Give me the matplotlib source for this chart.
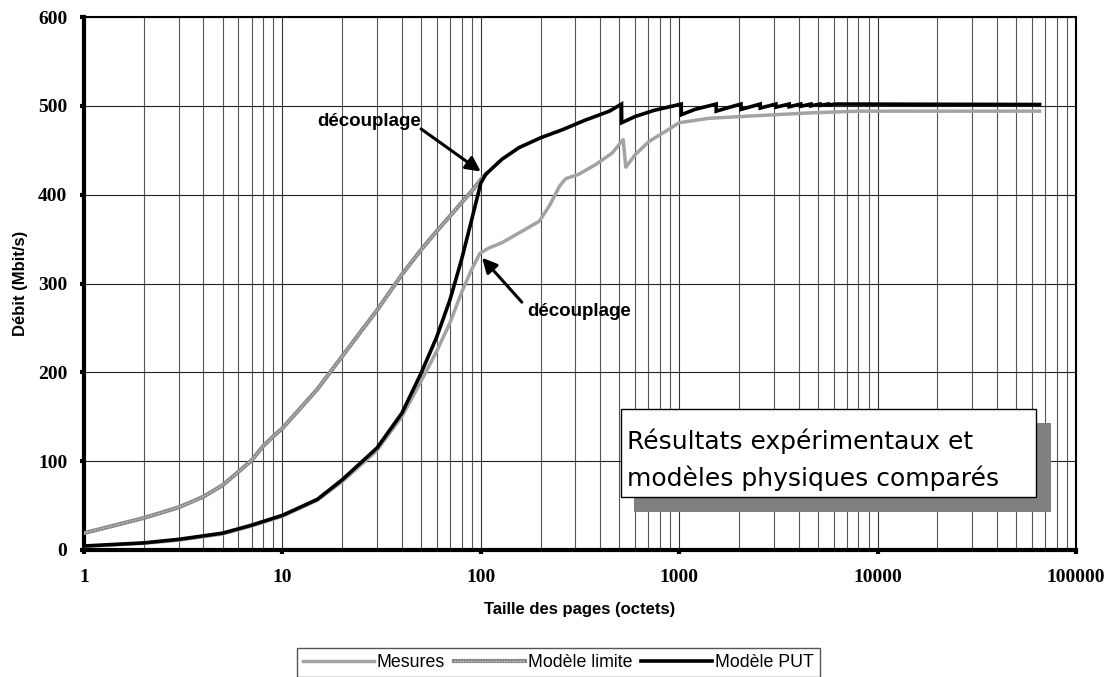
# -*- coding: utf-8 -*-
import matplotlib
matplotlib.use('Agg')
import matplotlib.pyplot as plt
from matplotlib.lines import Line2D
from matplotlib.patches import Rectangle
from matplotlib.ticker import FixedLocator, LogLocator, NullFormatter


W, H = 1108, 677

# page size (bytes) -> throughput (Mbit/s)
mes_x = [1, 2, 3, 5, 7, 10, 15, 20, 30, 33, 40, 50, 60, 70, 80, 90, 99,
         110, 128, 156, 197, 221, 250, 268, 312, 380, 460, 522, 538, 600,
         705, 850, 1000, 1420, 2500, 4500, 8000, 65536]
mes_y = [4, 7.5, 11, 18, 27, 38, 56, 77, 112, 125, 150, 190, 224, 256, 290,
         316, 334, 340, 346, 357, 370, 387, 410, 418, 423, 434, 447, 462, 431,
         445, 460, 471, 481, 486, 489, 492, 494, 494]

lim_x = [1, 2, 3, 4, 5, 6, 7, 8, 9, 10, 15, 20, 30, 40, 50, 60, 70, 80, 90,
         100, 106]
lim_y = [19, 36, 48, 60, 73, 88, 101, 117, 128, 137, 181, 218, 270, 310, 338,
         359, 376, 391, 404, 417, 423]

put_x = [1, 2, 3, 5, 7, 10, 15, 20, 30, 40, 50, 60, 70, 80, 90, 100, 106,
         128, 156, 200, 257, 337, 445, 512, 513, 600, 750, 1024, 1025, 1200,
         1536, 1537, 1800, 2048, 2049, 2560, 2561, 3072, 3073, 3584, 3585,
         4096, 4097, 4608, 4609, 5120, 5121, 5632, 5633, 6144, 65536]
put_y = [4.5, 8, 12, 19, 28, 39, 57, 79, 115, 154, 199, 240, 282, 327, 372,
         413, 423, 440, 453, 464, 473, 484, 494, 502, 481, 488, 495, 502, 490,
         496, 502, 494, 498.5, 502, 496, 502, 497.5, 502, 498.5, 502, 499,
         502, 499.5, 502, 500, 502, 500.5, 502, 501, 502, 501.5]

series_labels = ['Mesures', 'Modèle limite', 'Modèle PUT']
x_ticks = [1, 10, 100, 1000, 10000, 100000]
y_ticks = [0, 100, 200, 300, 400, 500, 600]

SANS = ['Liberation Sans', 'DejaVu Sans']
SERIF = ['Liberation Serif', 'DejaVu Serif']


def px(x, y):
    return x / W, 1 - y / H


def plot(file):
    fig = plt.figure(figsize=(W / 100, H / 100), dpi=100)
    left, top = px(84, 17)
    right, bottom = px(1076, 550)
    ax = fig.add_axes([left, bottom, right - left, top - bottom])

    ax.set_xscale('log')
    ax.set_xlim(1, 100000)
    ax.set_ylim(0, 600)

    # grid: all decades subdivided
    ax.xaxis.set_major_locator(FixedLocator(x_ticks))
    ax.xaxis.set_minor_locator(LogLocator(base=10, subs=range(2, 10), numticks=20))
    ax.xaxis.set_minor_formatter(NullFormatter())
    ax.set_xticklabels([str(t) for t in x_ticks])
    ax.set_yticks(y_ticks)
    ax.grid(True, which='major', axis='x', color='#333333', lw=0.8)
    ax.grid(True, which='minor', axis='x', color='#555555', lw=0.8)
    ax.grid(True, which='major', axis='y', color='#222222', lw=0.8)
    ax.set_axisbelow(True)

    for s in ['left', 'bottom']:
        ax.spines[s].set_linewidth(3)
    for s in ['top', 'right']:
        ax.spines[s].set_linewidth(1.5)

    ax.tick_params(which='major', direction='out', length=3, width=3,
                   color='k')
    ax.tick_params(which='minor', length=0)
    ax.tick_params(axis='x', pad=11)
    ax.tick_params(axis='y', pad=9)
    for lab in ax.get_xticklabels() + ax.get_yticklabels():
        lab.set_family(SERIF)
        lab.set_fontweight('bold')
        lab.set_fontsize(14)

    # curves
    ax.plot(mes_x, mes_y, color='#a3a3a3', lw=2.5, solid_joinstyle='round',
            zorder=3)
    ax.plot(lim_x, lim_y, color='#8a8a8a', lw=3, zorder=3)
    ax.plot(lim_x, lim_y, color='#cfcfcf', lw=0.9, ls=(0, (1, 1.2)), zorder=3)
    ax.plot(put_x, put_y, color='k', lw=2.6, solid_joinstyle='miter', zorder=4)

    ax.set_xlabel('Taille des pages (octets)', family=SANS, fontweight='bold',
                  fontsize=12)
    ax.xaxis.set_label_coords(0.5, -52 / 533)
    ax.set_ylabel('Débit (Mbit/s)', family=SANS, fontweight='bold',
                  fontsize=12)
    ax.yaxis.set_label_coords(-56 / 992, 0.5)

    # decoupling points
    arrow = dict(arrowstyle='-|>', color='k', lw=2.2, mutation_scale=22,
                 shrinkA=0, shrinkB=0)
    ax.annotate('', xy=(100, 426), xytext=(50, 474), arrowprops=arrow)
    ax.text(15, 482, 'découplage', family=SANS, fontweight='bold',
            fontsize=13.5, va='center', ha='left')
    ax.annotate('', xy=(101.5, 329), xytext=(161, 279), arrowprops=arrow)
    ax.text(171, 269, 'découplage', family=SANS, fontweight='bold',
            fontsize=13.5, va='center', ha='left')

    # caption box with shadow
    x0, y0 = px(634, 512)
    x1, y1 = px(1051, 423)
    fig.add_artist(Rectangle((x0, y0), x1 - x0, y1 - y0, transform=fig.transFigure,
                             facecolor='#808080', edgecolor='none', zorder=5))
    x0, y0 = px(621, 497)
    x1, y1 = px(1036, 409)
    fig.add_artist(Rectangle((x0, y0), x1 - x0, y1 - y0, transform=fig.transFigure,
                             facecolor='white', edgecolor='k', lw=1, zorder=6))
    tx, ty = px(627, 441)
    fig.text(tx, ty, 'Résultats expérimentaux et', family=['DejaVu Sans'],
             fontsize=18, va='center', ha='left', zorder=7)
    tx, ty = px(627, 478)
    fig.text(tx, ty, 'modèles physiques comparés', family=['DejaVu Sans'],
             fontsize=18, va='center', ha='left', zorder=7)

    # legend
    h_mes = Line2D([], [], color='#a3a3a3', lw=2.5)
    h_lim = (Line2D([], [], color='#8a8a8a', lw=3),
             Line2D([], [], color='#cfcfcf', lw=0.9, ls=(0, (1, 1.2))))
    h_put = Line2D([], [], color='k', lw=2.6)
    lx, ly = px(297, 648)
    leg = fig.legend([h_mes, h_lim, h_put], series_labels, loc='upper left',
                     bbox_to_anchor=(lx, ly), ncol=3, frameon=True,
                     fancybox=False, edgecolor='#555555', framealpha=1,
                     handlelength=4.0, handletextpad=0.15, columnspacing=0.5,
                     borderpad=0.35, borderaxespad=0,
                     prop={'family': SANS, 'size': 12.8})
    leg.get_frame().set_linewidth(1)

    fig.savefig(file, dpi=100)
    plt.close(fig)


if __name__ == '__main__':
    plot('out.png')
